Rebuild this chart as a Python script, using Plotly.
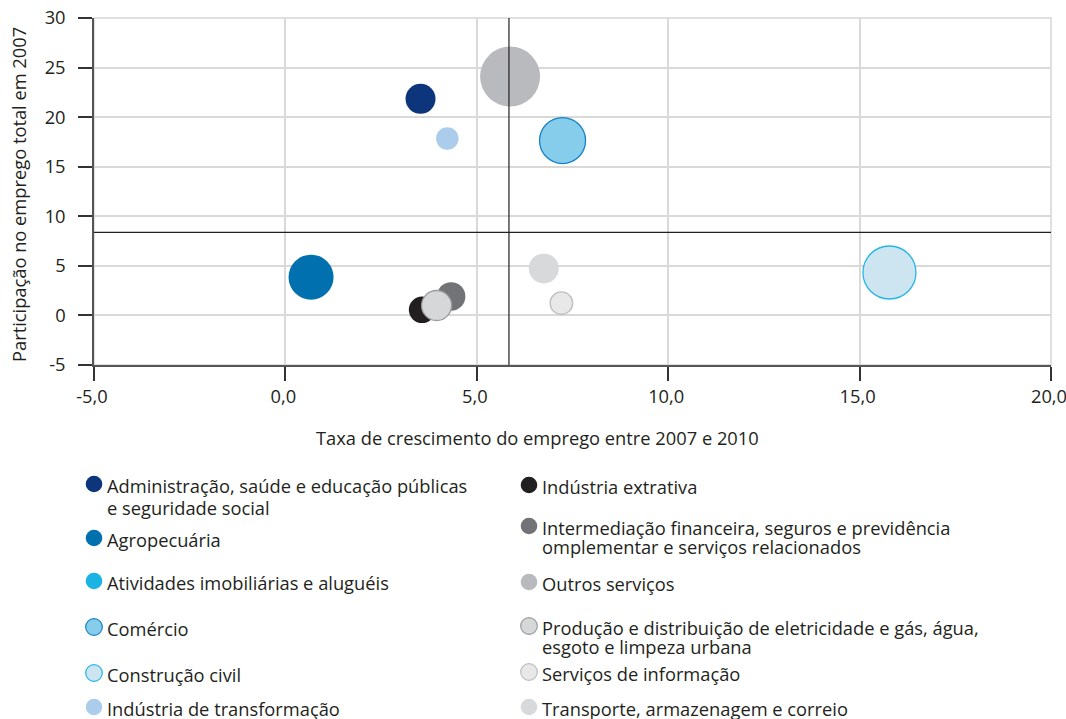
import plotly.graph_objects as go

# Dados
setores = [
    "Administração, saúde e educação públicas e seguridade social",
    "Agropecuária",
    "Atividades imobiliárias e aluguéis",
    "Comércio",
    "Construção civil",
    "Indústria de transformação",
    "Indústria extrativa",
    "Intermediação financeira, seguros e previdência omplementar e serviços relacionados",
    "Outros serviços",
    "Produção e distribuição de eletricidade e gás, água, esgoto e limpeza urbana",
    "Serviços de informação",
    "Transporte, armazenagem e correio",
]
crescimento = [3.53, 0.67, None, 7.24, 15.78, 4.23, 3.57, 4.33, 5.87, 3.95, 7.21, 6.75]
participacao = [21.85, 3.86, None, 17.64, 4.33, 17.84, 0.57, 1.92, 24.09, 1.0, 1.24, 4.74]
tamanho = [30, 45, 0, 46, 53, 22.5, 26.5, 28.5, 60, 30, 22.5, 30]

media_crescimento = 5.84
media_participacao = 8.37

x_ticks = [-5, 0, 5, 10, 15, 20]
x_labels = ["-5,0", "0,0", "5,0", "10,0", "15,0", "20,0"]
y_ticks = [-5, 0, 5, 10, 15, 20, 25, 30]
y_labels = ["-5", "0", "5", "10", "15", "20", "25", "30"]

# Textos da legenda (linhas), coluna esquerda e direita
legenda_esq = [
    ["Administração, saúde e educação públicas", "e seguridade social"],
    ["Agropecuária"],
    ["Atividades imobiliárias e aluguéis"],
    ["Comércio"],
    ["Construção civil"],
    ["Indústria de transformação"],
]
legenda_dir = [
    ["Indústria extrativa"],
    ["Intermediação financeira, seguros e previdência", "omplementar e serviços relacionados"],
    ["Outros serviços"],
    ["Produção e distribuição de eletricidade e gás, água,", "esgoto e limpeza urbana"],
    ["Serviços de informação"],
    ["Transporte, armazenagem e correio"],
]

# estilo: (preenchimento, contorno)
estilos = [
    ("#0c357b", None),
    ("#0071ae", None),
    ("#1bb3e4", None),
    ("#86cdec", "#1682c5"),
    ("#cce5f1", "#25b5e6"),
    ("#abcdeb", None),
    ("#231f20", None),
    ("#727376", None),
    ("#b9babd", None),
    ("#d6d7d9", "#9a9b9e"),
    ("#e8e8e9", "#bdbdbf"),
    ("#d8d9db", None),
]

W, H = 1066, 719
ML, MT = 94, 18
MR = W - 1051
MB = H - 365
PW, PH = W - ML - MR, H - MT - MB
FONT = "Open Sans"
FS = 18.3
TXT = "#231f20"


def px_to_paper(px, py):
    return (px - ML) / PW, (H - MB - py) / PH


fig = go.Figure()

for i, nome in enumerate(setores):
    if crescimento[i] is None:
        continue
    fill, line = estilos[i]
    fig.add_trace(go.Scatter(
        x=[crescimento[i]], y=[participacao[i]],
        mode="markers",
        name=nome,
        showlegend=False,
        marker=dict(
            size=tamanho[i], sizemode="diameter", color=fill, opacity=1,
            line=dict(color=line if line else fill, width=1.3 if line else 0),
        ),
        hovertemplate=nome + "<br>%{x:.1f}; %{y:.1f}<extra></extra>",
    ))

shapes = []
annotations = []

# borda cinza clara da área do gráfico
shapes.append(dict(type="rect", xref="paper", yref="paper", x0=0, x1=1, y0=0, y1=1,
                   line=dict(color="#d6d6d6", width=1.5), layer="below"))
# linhas das médias
shapes.append(dict(type="line", xref="x", yref="paper", x0=media_crescimento, x1=media_crescimento,
                   y0=0, y1=1, line=dict(color="#231f20", width=1.2)))
shapes.append(dict(type="line", xref="paper", yref="y", x0=0, x1=1,
                   y0=media_participacao, y1=media_participacao, line=dict(color="#231f20", width=1.2)))

# legenda manual em duas colunas
linhas_y_esq = [[485, 507], [539], [582], [628], [674], [708]]
linhas_y_dir = [[486], [527, 546], [583], [627, 646], [673], [708]]
colunas = [
    (legenda_esq, linhas_y_esq, 94, 105, 0),
    (legenda_dir, linhas_y_dir, 529, 540, 6),
]
for textos, ys, mx, tx, off in colunas:
    for k, linhas in enumerate(textos):
        fill, line = estilos[off + k]
        cx, cy = px_to_paper(mx, ys[k][0] - 1)
        shapes.append(dict(
            type="circle", xref="paper", yref="paper", xsizemode="pixel", ysizemode="pixel",
            xanchor=cx, yanchor=cy, x0=-8.3, x1=8.3, y0=-8.3, y1=8.3,
            fillcolor=fill, line=dict(color=line if line else fill, width=1.2 if line else 0),
        ))
        for j, texto in enumerate(linhas):
            ax, ay = px_to_paper(tx, ys[k][j])
            annotations.append(dict(
                text=texto, xref="paper", yref="paper", x=ax, y=ay,
                xanchor="left", yanchor="middle", showarrow=False,
                font=dict(family=FONT, size=FS, color=TXT),
            ))

# títulos dos eixos
tx_, ty_ = px_to_paper(537, 437)
annotations.append(dict(text="Taxa de crescimento do emprego entre 2007 e 2010", xref="paper", yref="paper",
                        x=tx_, y=ty_, xanchor="center", yanchor="middle", showarrow=False,
                        font=dict(family=FONT, size=FS, color=TXT)))
tx_, ty_ = px_to_paper(18, 195)
annotations.append(dict(text="Participação no emprego total em 2007", xref="paper", yref="paper",
                        x=tx_, y=ty_, xanchor="center", yanchor="middle", showarrow=False, textangle=-90,
                        font=dict(family=FONT, size=FS, color=TXT)))

fig.update_layout(
    width=W, height=H,
    margin=dict(l=ML, r=MR, t=MT, b=MB, autoexpand=False),
    plot_bgcolor="white", paper_bgcolor="white",
    font=dict(family=FONT, size=FS, color=TXT),
    shapes=shapes,
    annotations=annotations,
    showlegend=False,
    xaxis=dict(
        range=[-5, 20], tickvals=x_ticks, ticktext=x_labels, automargin=False,
        ticklabeloverflow="allow", ticklabelshift=-2,
        showgrid=True, gridcolor="#d9d9d9", gridwidth=1.5, zeroline=False,
        showline=True, linecolor="#555555", linewidth=1.5,
        ticks="outside", ticklen=14, tickcolor="#333333", tickwidth=1.5,
        tickfont=dict(family=FONT, size=FS, color=TXT),
    ),
    yaxis=dict(
        range=[-5, 30], tickvals=y_ticks, ticktext=y_labels, automargin=False,
        ticklabeloverflow="allow",
        showgrid=True, gridcolor="#d9d9d9", gridwidth=1.5, zeroline=False,
        showline=True, linecolor="#555555", linewidth=1.5,
        ticks="outside", ticklen=14, tickcolor="#333333", tickwidth=1.5,
        tickfont=dict(family=FONT, size=FS, color=TXT),
        ticklabelstandoff=9,
    ),
)

# sem a margem padrão do body, a figura ocupa a janela inteira
fig.write_html("out.html", config={"displayModeBar": False},
               post_script="document.body.style.margin = '0';")
